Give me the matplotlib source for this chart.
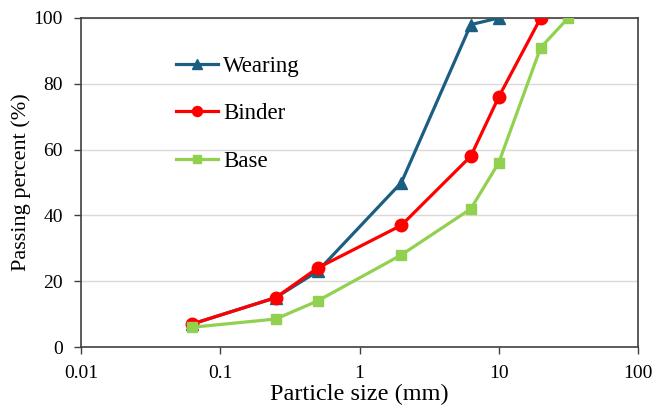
import matplotlib
matplotlib.use("Agg")
import matplotlib.pyplot as plt

plt.rcParams['font.family'] = ['Liberation Serif', 'DejaVu Serif']

sizes_wearing = [0.063, 0.25, 0.5, 2, 6.3, 10]
pass_wearing = [7, 15, 23, 50, 98, 100]
sizes_binder = [0.063, 0.25, 0.5, 2, 6.3, 10, 20]
pass_binder = [7, 15, 24, 37, 58, 76, 100]
sizes_base = [0.063, 0.25, 0.5, 2, 6.3, 10, 20, 31.5]
pass_base = [6, 8.5, 14, 28, 42, 56, 91, 100]
series_names = ["Wearing", "Binder", "Base"]
xticks = [0.01, 0.1, 1, 10, 100]
xtick_labels = ["0.01", "0.1", "1", "10", "100"]
yticks = [0, 20, 40, 60, 80, 100]

fig = plt.figure(figsize=(6.56, 4.09), dpi=100)
ax = fig.add_axes([81/656, 1-347/409, (638-81)/656, (347-18)/409])

ax.plot(sizes_wearing, pass_wearing, color='#1B5E82', lw=2.3, marker='^', ms=9,
        label=series_names[0], zorder=3)
ax.plot(sizes_binder, pass_binder, color='#FF0000', lw=2.3, marker='o', ms=9,
        label=series_names[1], zorder=4)
ax.plot(sizes_base, pass_base, color='#92D050', lw=2.3, marker='s', ms=7,
        label=series_names[2], zorder=5)

ax.set_xscale('log')
ax.set_xlim(0.01, 100)
ax.set_ylim(0, 100)
ax.set_xticks(xticks)
ax.set_xticklabels(xtick_labels)
ax.set_yticks(yticks)
ax.minorticks_off()
ax.tick_params(axis='both', direction='out', length=5, width=1, color='#404040',
               labelsize=14)
ax.tick_params(axis='x', pad=8)
ax.tick_params(axis='y', pad=8)
for s in ax.spines.values():
    s.set_color('#404040')
    s.set_linewidth(1.2)
ax.yaxis.grid(True, color='#D9D9D9', lw=1)
ax.set_axisbelow(True)

ax.set_xlabel("Particle size (mm)", fontsize=17.5, labelpad=1)
ax.set_ylabel("Passing percent (%)", fontsize=16, labelpad=2)

leg = ax.legend(loc='upper left', bbox_to_anchor=(176/656, 1-56/409),
                bbox_transform=fig.transFigure, frameon=False, fontsize=16.5,
                handlelength=1.85, handletextpad=0.2, labelspacing=1.15,
                borderpad=0, borderaxespad=0, markerscale=0.8)

fig.savefig("out.png", dpi=100)
